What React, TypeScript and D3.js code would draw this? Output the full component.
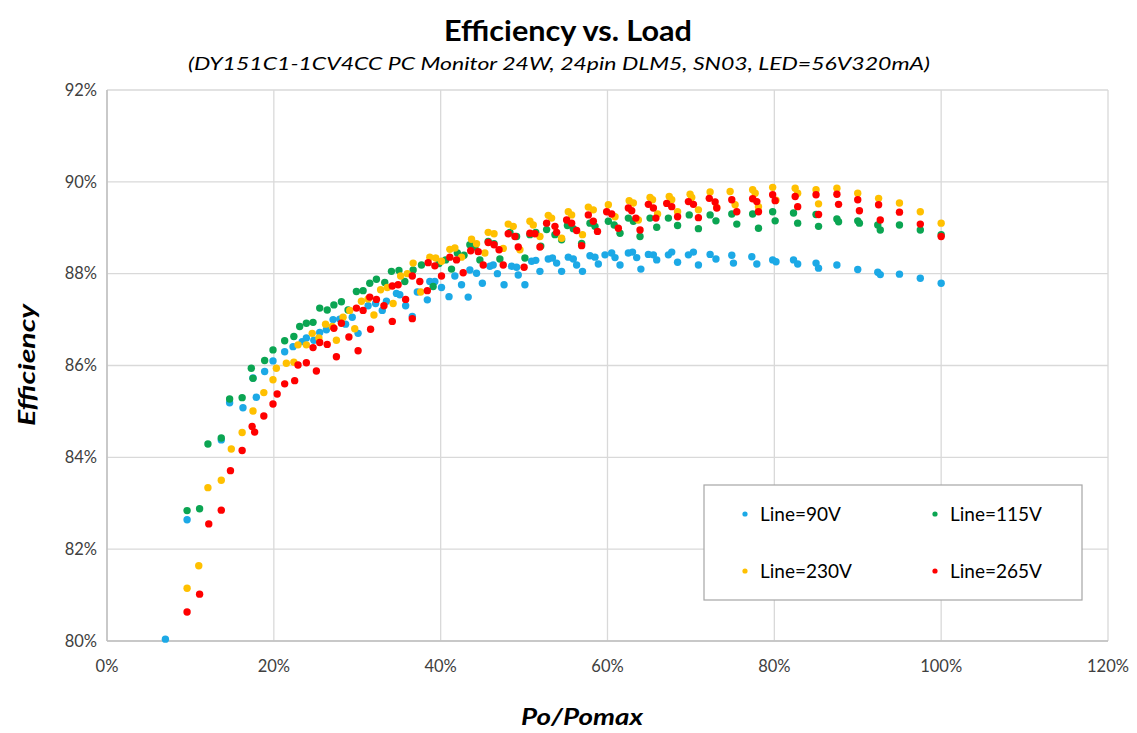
import React from "react";
import * as d3 from "d3";

const title = "Efficiency vs. Load";
const subtitle = "(DY151C1-1CV4CC PC Monitor 24W, 24pin DLM5, SN03, LED=56V320mA)";
const xTicks = [0, 20, 40, 60, 80, 100, 120];
const yTicks = [80, 82, 84, 86, 88, 90, 92];
const seriesNames = ["Line=90V", "Line=115V", "Line=230V", "Line=265V"];
const seriesColors = ["#1CA9E6", "#0BA552", "#FFC000", "#FF0000"];

const line90V: [number, number][] = [
  [7.0,80.04],[9.6,82.64],[13.7,84.38],[14.7,85.19],[16.3,85.08],[17.5,85.73],[17.9,85.31],[18.9,85.87],[19.9,86.10],[21.3,86.30],[22.3,86.41],[23.4,86.52],[23.9,86.60],[24.8,86.55],[25.5,86.72],[26.3,86.78],[27.1,87.00],[27.9,87.01],[28.6,86.90],[29.4,87.05],[30.1,86.70],[31.3,87.30],[32.2,87.35],[33.0,87.20],[33.5,87.40],[34.7,87.57],[35.1,87.54],[35.8,87.30],[36.6,87.07],[37.2,87.60],[38.4,87.43],[38.7,87.83],[39.3,87.83],[40.1,87.70],[41.0,87.50],[41.7,87.95],[42.5,87.76],[43.3,87.49],[43.5,88.08],[44.3,88.01],[45.0,87.79],[45.9,88.16],[46.3,88.19],[46.8,88.00],[47.6,87.76],[48.5,88.16],[49.1,88.14],[49.3,87.97],[50.1,87.76],[50.9,88.27],[51.4,88.29],[51.9,88.05],[52.9,88.32],[53.4,88.34],[53.9,88.23],[54.5,88.05],[55.3,88.36],[55.9,88.32],[56.3,88.19],[57.0,88.05],[57.9,88.39],[58.5,88.36],[58.9,88.21],[59.7,88.41],[60.5,88.45],[60.9,88.35],[61.5,88.19],[62.5,88.45],[63.0,88.47],[63.5,88.35],[64.0,88.10],[64.9,88.42],[65.5,88.41],[65.9,88.30],[67.3,88.41],[67.7,88.47],[68.4,88.25],[69.7,88.41],[70.3,88.47],[70.9,88.19],[72.3,88.42],[73.0,88.32],[74.9,88.40],[75.1,88.23],[77.3,88.37],[77.9,88.21],[79.8,88.30],[80.2,88.26],[82.3,88.30],[82.8,88.21],[85.0,88.23],[85.3,88.12],[87.5,88.19],[90.0,88.09],[92.4,88.03],[92.7,87.98],[95.0,87.99],[97.5,87.90],[100,87.79]
];

const line115V: [number, number][] = [
  [9.6,82.84],[11.1,82.88],[12.1,84.29],[13.7,84.42],[14.7,85.27],[16.2,85.30],[17.3,85.94],[17.5,85.72],[18.9,86.11],[19.9,86.34],[21.3,86.54],[22.4,86.63],[23.1,86.85],[23.9,86.92],[24.7,86.94],[25.5,87.25],[26.4,87.21],[27.2,87.32],[28.1,87.39],[28.9,87.21],[29.9,87.61],[30.7,87.63],[31.5,87.79],[32.3,87.88],[33.3,87.81],[34.1,88.05],[35.0,88.07],[35.7,87.83],[36.7,88.08],[37.7,88.19],[39.1,87.72],[39.8,88.22],[40.6,88.30],[41.3,88.10],[42.0,88.45],[42.8,88.40],[43.5,88.63],[44.1,88.58],[44.7,88.30],[45.7,88.70],[46.4,88.65],[47.1,88.32],[48.3,88.90],[49.1,88.81],[50.1,88.34],[50.7,88.85],[51.4,88.90],[52.0,88.60],[52.7,88.96],[53.7,88.85],[54.5,88.74],[55.2,89.05],[55.9,88.98],[56.9,88.66],[57.9,89.10],[58.5,89.03],[60.1,89.14],[60.8,89.06],[61.5,88.88],[62.5,89.21],[63.1,89.14],[63.9,88.81],[65.1,89.21],[65.9,89.01],[67.3,89.21],[68.4,89.05],[69.8,89.28],[70.9,88.98],[72.3,89.28],[73.0,89.15],[74.9,89.30],[75.5,89.08],[77.4,89.30],[78.1,88.99],[79.8,89.35],[80.1,89.15],[82.3,89.32],[82.8,89.10],[85.0,89.29],[85.3,89.03],[87.5,89.19],[87.7,89.13],[90.0,89.15],[90.2,89.10],[92.4,89.06],[92.7,88.95],[95.0,89.06],[97.5,88.95],[100,88.85]
];

const line230V: [number, number][] = [
  [9.6,81.15],[11.0,81.64],[12.1,83.34],[13.7,83.50],[14.9,84.18],[16.2,84.54],[17.5,85.01],[18.8,85.41],[19.9,85.69],[20.3,85.94],[21.5,86.05],[22.4,86.07],[22.9,86.45],[23.9,86.45],[24.6,86.70],[25.4,86.60],[26.2,86.90],[27.0,86.85],[27.5,86.55],[28.3,87.05],[29.1,87.20],[29.7,86.80],[30.5,87.40],[31.3,87.45],[32.0,87.10],[32.8,87.65],[33.6,87.70],[34.3,87.35],[35.2,87.95],[36.0,88.00],[36.7,88.23],[37.6,87.60],[38.7,88.36],[39.4,88.34],[40.1,88.27],[41.1,88.53],[41.7,88.56],[42.5,88.36],[43.7,88.75],[44.3,88.65],[45.3,88.45],[45.7,88.90],[46.4,88.87],[47.5,88.55],[48.1,89.08],[48.7,89.03],[49.5,88.52],[50.7,89.14],[51.1,89.06],[51.9,88.81],[52.9,89.27],[53.3,89.21],[54.5,88.77],[55.3,89.35],[55.7,89.28],[57.0,88.85],[57.7,89.45],[58.3,89.39],[60.1,89.50],[60.9,89.24],[62.6,89.59],[63.1,89.54],[63.7,89.17],[65.1,89.66],[65.4,89.61],[66.0,89.30],[67.4,89.68],[67.7,89.61],[68.4,89.35],[69.9,89.73],[70.1,89.66],[70.9,89.39],[72.3,89.78],[73.1,89.44],[74.7,89.79],[75.3,89.50],[77.4,89.83],[77.7,89.75],[78.1,89.46],[79.8,89.88],[80.2,89.60],[82.5,89.86],[82.8,89.75],[85.0,89.83],[85.3,89.52],[87.5,89.86],[90.0,89.75],[92.5,89.64],[95.0,89.54],[97.5,89.35],[100,89.10]
];

const line265V: [number, number][] = [
  [9.6,80.63],[11.1,81.02],[12.2,82.55],[13.7,82.85],[14.8,83.71],[16.2,84.15],[17.4,84.67],[17.7,84.55],[18.8,84.90],[19.9,85.16],[20.4,85.38],[21.3,85.60],[22.5,85.67],[22.9,86.01],[23.9,86.06],[25.1,85.88],[24.7,86.39],[25.5,86.50],[26.4,86.46],[27.5,86.19],[27.2,86.81],[28.1,86.92],[29.0,86.62],[30.1,86.32],[29.9,87.25],[30.7,87.20],[31.6,86.79],[31.5,87.49],[32.3,87.44],[33.2,87.30],[34.2,87.73],[34.9,87.76],[35.8,87.44],[34.2,86.96],[36.6,87.95],[37.5,87.83],[38.4,87.63],[36.6,87.02],[38.5,88.24],[39.3,88.17],[40.1,87.95],[41.1,88.36],[41.9,88.30],[42.7,88.02],[43.6,88.50],[44.5,88.48],[45.1,88.19],[45.7,88.68],[46.4,88.63],[47.0,88.52],[47.5,88.19],[48.1,88.87],[48.9,88.81],[49.3,88.58],[50.0,88.14],[50.7,88.88],[51.3,88.87],[51.9,88.58],[52.7,89.10],[53.7,89.03],[53.9,88.90],[55.1,89.17],[55.7,89.10],[56.3,88.94],[56.9,88.61],[57.7,89.28],[58.3,89.14],[58.8,88.92],[59.9,89.35],[60.5,89.30],[61.3,88.99],[62.5,89.43],[62.9,89.37],[63.4,89.21],[63.9,88.95],[64.9,89.51],[65.5,89.43],[65.8,89.21],[67.1,89.53],[67.7,89.46],[68.4,89.24],[69.7,89.57],[70.3,89.51],[70.9,89.22],[72.2,89.64],[72.9,89.56],[73.1,89.43],[74.9,89.61],[75.5,89.35],[77.4,89.63],[77.9,89.57],[78.1,89.35],[79.8,89.72],[80.1,89.59],[82.5,89.68],[82.8,89.46],[85.0,89.72],[85.3,89.29],[87.5,89.73],[87.7,89.51],[90.0,89.61],[90.2,89.37],[92.5,89.50],[92.7,89.17],[95.0,89.34],[97.5,89.08],[100,88.81]
];

const allSeries = [line90V, line115V, line230V, line265V];

const W = 1137;
const H = 733;
const FONT = "Lato, 'Open Sans', 'Liberation Sans', sans-serif";

export default function App() {
  const x = d3.scaleLinear().domain([0, 120]).range([107, 1108]);
  const y = d3.scaleLinear().domain([80, 92]).range([641, 90]);
  const fmt = (v: number) => `${v}%`;

  return (
    <svg
      width={W}
      height={H}
      style={{ position: "absolute", left: 0, top: 0, background: "#fff" }}
      fontFamily={FONT}
    >
      <rect x={0} y={0} width={W} height={H} fill="#fff" />
      {yTicks.map((t) => (
        <line key={"gy" + t} x1={x(0)} x2={x(120)} y1={y(t)} y2={y(t)} stroke="#d9d9d9" strokeWidth={1.3} />
      ))}
      {xTicks.map((t) => (
        <line key={"gx" + t} x1={x(t)} x2={x(t)} y1={y(80)} y2={y(92)} stroke="#d9d9d9" strokeWidth={1.3} />
      ))}
      <line x1={x(0)} x2={x(120)} y1={y(80)} y2={y(80)} stroke="#bfbfbf" strokeWidth={1.5} />
      <line x1={x(0)} x2={x(0)} y1={y(80)} y2={y(92)} stroke="#bfbfbf" strokeWidth={1.5} />

      {yTicks.map((t) => (
        <text key={"ly" + t} x={97} y={y(t)} dy="0.35em" textAnchor="end" fontSize={16.5} fill="#404040">
          {fmt(t)}
        </text>
      ))}
      {xTicks.map((t) => (
        <text key={"lx" + t} x={x(t)} y={672} textAnchor="middle" fontSize={16.5} fill="#404040">
          {fmt(t)}
        </text>
      ))}

      {allSeries.map((s, i) => (
        <g key={"s" + i} fill={seriesColors[i]}>
          {s.map((d, j) => (
            <circle key={j} cx={x(d[0])} cy={y(d[1])} r={3.7} />
          ))}
        </g>
      ))}

      <text x={568} y={41} textAnchor="middle" fontSize={29} fontWeight="bold" fill="#000" textLength={248} lengthAdjust="spacingAndGlyphs">
        {title}
      </text>
      <text x={559} y={70} textAnchor="middle" fontSize={18} fontStyle="italic" fill="#000" textLength={742} lengthAdjust="spacingAndGlyphs">
        {subtitle}
      </text>
      <text x={582} y={725} textAnchor="middle" fontSize={22} fontWeight="bold" fontStyle="italic" fill="#000" textLength={122} lengthAdjust="spacingAndGlyphs">
        Po/Pomax
      </text>
      <text transform="translate(35,365) rotate(-90)" textAnchor="middle" fontSize={22} fontWeight="bold" fontStyle="italic" fill="#000" textLength={122} lengthAdjust="spacingAndGlyphs">
        Efficiency
      </text>

      <rect x={704} y={485} width={378} height={115} fill="#fff" stroke="#a6a6a6" strokeWidth={1.2} />
      {seriesNames.map((n, i) => {
        const col = i % 2;
        const row = Math.floor(i / 2);
        const mx = 745 + col * 190;
        const my = 514 + row * 57;
        return (
          <g key={"lg" + i}>
            <circle cx={mx} cy={my} r={2.6} fill={seriesColors[i]} />
            <text x={mx + 15} y={my} dy="0.36em" fontSize={19} fill="#000">
              {n}
            </text>
          </g>
        );
      })}
    </svg>
  );
}
